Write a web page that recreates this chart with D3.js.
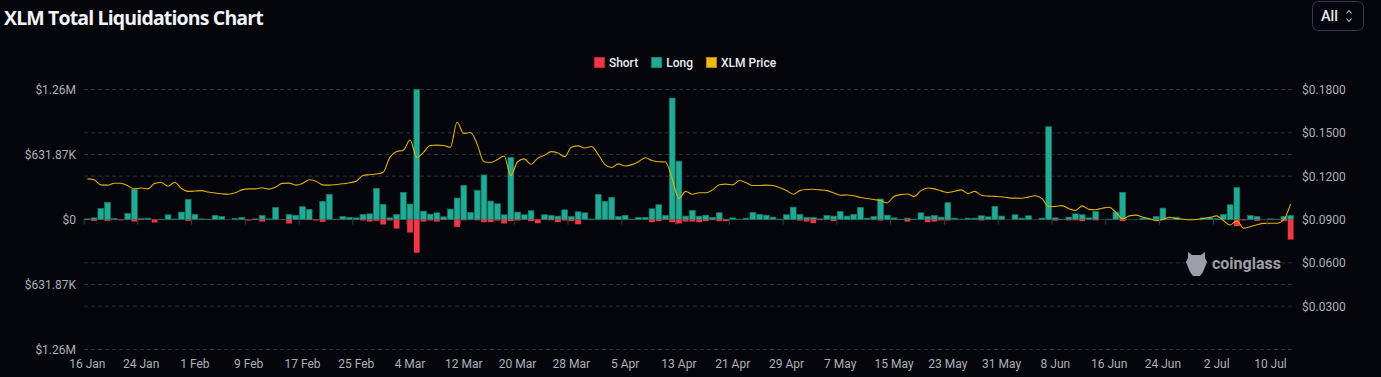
<!DOCTYPE html>
<html>
<head>
<meta charset="utf-8">
<script src="https://cdn.jsdelivr.net/npm/d3@7"></script>
<style>
  body { margin: 0; background: #04060b; }
  svg { display: block; font-family: Roboto, "Noto Sans", sans-serif; }
</style>
</head>
<body>
<svg id="chart" width="1381" height="377"></svg>
<script>
// daily liquidations in $K, starting 16 Jan 2024
const startDay = new Date(2024, 0, 16);
const longLiq = [
  6, 16, 107, 166, 10, 0, 59, 293, 8, 13,
  0, 2, 46, 5, 72, 195, 49, 6, 3, 39,
  29, 0, 10, 20, 0, 6, 39, 6, 117, 0,
  49, 42, 124, 98, 0, 176, 244, 3, 29, 20,
  16, 49, 55, 303, 147, 16, 49, 264, 150, 1263.74,
  81, 52, 65, 26, 101, 208, 332, 68, 283, 433,
  179, 153, 46, 603, 72, 46, 85, 0, 46, 39,
  33, 94, 29, 75, 65, 5, 244, 176, 215, 29,
  39, 3, 20, 20, 104, 143, 39, 1180, 567, 33,
  88, 33, 42, 20, 65, 3, 16, 2, 13, 68,
  49, 42, 23, 3, 46, 120, 49, 20, 20, 6,
  39, 33, 78, 33, 49, 117, 13, 29, 199, 42,
  16, 3, 13, 3, 65, 29, 39, 23, 163, 13,
  2, 13, 13, 36, 26, 127, 33, 0, 46, 13,
  36, 0, 13, 902, 16, 3, 23, 55, 46, 16,
  78, 0, 3, 72, 264, 0, 0, 13, 3, 29,
  111, 3, 23, 3, 3, 3, 16, 20, 8, 49,
  143, 310, 0, 39, 29, 0, 6, 3, 29, 39
];
const shortLiq = [
  3, 13, 0, 13, 0, 8, 0, 20, 3, 0,
  29, 0, 0, 0, 0, 13, 0, 0, 0, 0,
  0, 0, 0, 0, 10, 5, 20, 0, 0, 5,
  39, 0, 0, 5, 10, 23, 0, 0, 0, 0,
  0, 10, 20, 13, 49, 10, 88, 0, 127, 323,
  20, 10, 20, 5, 0, 72, 8, 0, 8, 26,
  26, 10, 39, 16, 10, 3, 16, 36, 3, 8,
  26, 10, 16, 46, 0, 0, 0, 0, 3, 3,
  0, 0, 0, 0, 26, 16, 5, 26, 39, 20,
  20, 26, 16, 6, 16, 16, 0, 0, 0, 0,
  0, 0, 0, 0, 0, 0, 10, 20, 36, 6,
  0, 16, 0, 0, 0, 0, 0, 0, 10, 0,
  0, 0, 20, 0, 0, 26, 20, 8, 10, 0,
  0, 0, 0, 10, 0, 0, 0, 0, 0, 0,
  0, 0, 0, 0, 10, 0, 8, 8, 16, 0,
  8, 0, 0, 0, 16, 0, 0, 0, 0, 0,
  0, 0, 0, 0, 0, 0, 0, 0, 0, 0,
  0, 65, 8, 0, 13, 0, 0, 0, 16, 195
];
const xlmPrice = [
  0.1181, 0.1175, 0.1140, 0.1138, 0.1151, 0.1151, 0.1133, 0.1112, 0.1118, 0.1112,
  0.1150, 0.1156, 0.1130, 0.1158, 0.1115, 0.1095, 0.1097, 0.1100, 0.1090, 0.1083,
  0.1078, 0.1075, 0.1085, 0.1105, 0.1112, 0.1112, 0.1120, 0.1110, 0.1125, 0.1150,
  0.1152, 0.1138, 0.1150, 0.1175, 0.1165, 0.1140, 0.1138, 0.1142, 0.1147, 0.1155,
  0.1165, 0.1205, 0.1210, 0.1215, 0.1227, 0.1330, 0.1370, 0.1380, 0.1450, 0.1330,
  0.1365, 0.1412, 0.1415, 0.1412, 0.1400, 0.1573, 0.1495, 0.1502, 0.1420, 0.1300,
  0.1295, 0.1315, 0.1340, 0.1204, 0.1300, 0.1320, 0.1282, 0.1325, 0.1345, 0.1370,
  0.1360, 0.1335, 0.1400, 0.1410, 0.1395, 0.1405, 0.1350, 0.1280, 0.1260, 0.1285,
  0.1270, 0.1280, 0.1300, 0.1328, 0.1308, 0.1300, 0.1298, 0.1183, 0.1045, 0.1095,
  0.1075, 0.1085, 0.1085, 0.1105, 0.1140, 0.1145, 0.1140, 0.1170, 0.1155, 0.1135,
  0.1135, 0.1138, 0.1135, 0.1120, 0.1100, 0.1075, 0.1100, 0.1108, 0.1109, 0.1105,
  0.1100, 0.1085, 0.1068, 0.1070, 0.1065, 0.1052, 0.1045, 0.1038, 0.1031, 0.1015,
  0.1060, 0.1072, 0.1077, 0.1060, 0.1100, 0.1118, 0.1112, 0.1098, 0.1086, 0.1095,
  0.1105, 0.1080, 0.1095, 0.1068, 0.1062, 0.1060, 0.1057, 0.1050, 0.1048, 0.1047,
  0.1055, 0.1064, 0.1045, 0.0990, 0.0990, 0.0996, 0.0975, 0.0962, 0.0994, 0.0970,
  0.0968, 0.0978, 0.0985, 0.0950, 0.0904, 0.0925, 0.0930, 0.0915, 0.0905, 0.0892,
  0.0900, 0.0915, 0.0906, 0.0902, 0.0898, 0.0900, 0.0907, 0.0915, 0.0925, 0.0893,
  0.0862, 0.0890, 0.0840, 0.0850, 0.0864, 0.0873, 0.0874, 0.0874, 0.0900, 0.1008
];
const xTickLabels = ["16 Jan", "24 Jan", "1 Feb", "9 Feb", "17 Feb", "25 Feb", "4 Mar",
  "12 Mar", "20 Mar", "28 Mar", "5 Apr", "13 Apr", "21 Apr", "29 Apr", "7 May", "15 May",
  "23 May", "31 May", "8 Jun", "16 Jun", "24 Jun", "2 Jul", "10 Jul"];
const leftTicks = [-1263.74, -631.87, 0, 631.87, 1263.74];
const rightTicks = [0.03, 0.06, 0.09, 0.12, 0.15, 0.18];
const legendNames = ["Short", "Long", "XLM Price"];

const red = "#f23645", teal = "#22ab94", gold = "#f0b90b";
const svg = d3.select("#chart");
const plotLeft = 84, plotRight = 1294, plotTop = 89.5, plotBottom = 349.5;

const days = d3.timeDay.range(startDay, d3.timeDay.offset(startDay, longLiq.length));
const fmtDay = d3.timeFormat("%-d %b");

let xScale = d3.scaleBand().domain(days).range([plotLeft, plotRight])
  .paddingInner(0.14).paddingOuter(0.07);
let yLeft = d3.scaleLinear().domain([-1263.74, 1263.74]).range([plotBottom, plotTop]);
let yRight = d3.scaleLinear().domain([0, 0.18]).range([plotBottom, plotTop]);

// background
svg.append("rect").attr("width", 1381).attr("height", 377).attr("fill", "#04060b");

// title
svg.append("text")
  .attr("x", 4).attr("y", 25)
  .attr("fill", "#f2f3f5")
  .style("font-family", "'Open Sans', sans-serif")
  .style("font-weight", 700).style("font-size", "19.5px")
  .style("letter-spacing", "-0.85px")
  .text("XLM Total Liquidations Chart");

// "All" select box
svg.append("rect")
  .attr("x", 1312.5).attr("y", 1.5).attr("width", 51).attr("height", 29).attr("rx", 6)
  .attr("fill", "none").attr("stroke", "#3a3d44");
svg.append("text")
  .attr("x", 1321).attr("y", 21)
  .attr("fill", "#e8e9ec").style("font-size", "14.5px").style("font-weight", 500)
  .text("All");
svg.append("path")
  .attr("d", "M1346.5,13.5 L1349,10.5 L1351.5,13.5 M1346.5,18.5 L1349,21.5 L1351.5,18.5")
  .attr("fill", "none").attr("stroke", "#c9cbd0").attr("stroke-width", 1.1);

// gridlines for both axes
let gridG = svg.append("g");
leftTicks.concat(rightTicks.map(v => yLeft.invert(yRight(v)))).forEach(v => {
  if (Math.abs(v) < 1e-6) return;
  gridG.append("line")
    .attr("x1", plotLeft).attr("x2", plotRight)
    .attr("y1", yLeft(v)).attr("y2", yLeft(v))
    .attr("stroke", "#2b2f36")
    .attr("stroke-dasharray", "4,3");
});

// watermark
let wm = svg.append("g").attr("fill", "#9c9fa5");
wm.append("path")
  .attr("d", "M1188,252 L1192,255 L1201,255 L1205,252 L1205,258 L1207,262 L1205,267 " +
    "L1203,272 L1200,276 L1193,276 L1190,272 L1188,267 L1186,262 L1188,258 Z");
wm.append("text")
  .attr("x", 1212).attr("y", 269)
  .style("font-size", "16px").style("font-weight", 700)
  .text("coinglass");

// zero line
svg.append("line")
  .attr("x1", plotLeft).attr("x2", plotRight)
  .attr("y1", yLeft(0)).attr("y2", yLeft(0))
  .attr("stroke", "#2e3238");

// bars
let barsG = svg.append("g");
barsG.selectAll("rect.long")
  .data(days)
  .join("rect")
  .attr("class", "long")
  .attr("x", d => xScale(d))
  .attr("width", xScale.bandwidth())
  .attr("y", (d, i) => yLeft(longLiq[i]))
  .attr("height", (d, i) => yLeft(0) - yLeft(longLiq[i]))
  .attr("fill", teal)
  .attr("stroke", "#177a69").attr("stroke-width", 0.7);

barsG.selectAll("rect.short")
  .data(days)
  .join("rect")
  .attr("class", "short")
  .attr("x", d => xScale(d))
  .attr("width", xScale.bandwidth())
  .attr("y", yLeft(0))
  .attr("height", (d, i) => yLeft(-shortLiq[i]) - yLeft(0))
  .attr("fill", red);

// price line
let priceLine = d3.line()
  .x((d, i) => xScale(days[i]) + xScale.bandwidth() / 2)
  .y(d => yRight(d))
  .curve(d3.curveMonotoneX);
svg.append("path")
  .attr("d", priceLine(xlmPrice))
  .attr("fill", "none")
  .attr("stroke", "#e2ae0a")
  .attr("stroke-width", 1.1);

// x axis: ticks at band start, labels at band centre
const tickDays = days.filter(d => xTickLabels.includes(fmtDay(d)));
const gap = (xScale.step() - xScale.bandwidth()) / 2;
svg.append("g").selectAll("line")
  .data(tickDays)
  .join("line")
  .attr("x1", d => xScale(d) - gap).attr("x2", d => xScale(d) - gap)
  .attr("y1", yLeft(0)).attr("y2", yLeft(0) + 5)
  .attr("stroke", "#3a3e45");

let xAxis = d3.axisBottom(xScale).tickValues(tickDays).tickFormat(fmtDay)
  .tickSize(0).tickPadding(5);
svg.append("g")
  .attr("id", "xAxisG")
  .attr("transform", "translate(0, 354)")
  .call(xAxis);

// y axes
function fmtMoney(v) {
  let a = Math.abs(v);
  if (a === 0) return "$0";
  if (a >= 1000) return "$" + (a / 1000).toFixed(2) + "M";
  return "$" + a.toFixed(2) + "K";
}
let yAxisL = d3.axisLeft(yLeft).tickValues(leftTicks).tickFormat(fmtMoney)
  .tickSize(0).tickPadding(8);
svg.append("g").attr("id", "yAxisLG")
  .attr("transform", `translate(${plotLeft}, 0)`)
  .call(yAxisL);

let yAxisR = d3.axisRight(yRight).tickValues(rightTicks).tickFormat(v => "$" + v.toFixed(4))
  .tickSize(0).tickPadding(8);
svg.append("g").attr("id", "yAxisRG")
  .attr("transform", `translate(${plotRight}, 0)`)
  .call(yAxisR);

svg.selectAll("#xAxisG, #yAxisLG, #yAxisRG")
  .call(g => g.select(".domain").remove())
  .selectAll("text")
  .attr("fill", "#aeb1b7")
  .style("font-family", "Roboto, sans-serif")
  .style("font-size", "12px");

// legend
const legendColors = [red, teal, gold];
let legendG = svg.append("g").attr("transform", "translate(0, 62)");
let xPos = 0;
legendNames.forEach((name, i) => {
  let item = legendG.append("g").attr("transform", `translate(${xPos}, 0)`);
  item.append("rect")
    .attr("x", 0.5).attr("y", -4.5).attr("width", 10).attr("height", 10)
    .attr("fill", legendColors[i])
    .attr("stroke", d3.color(legendColors[i]).darker(0.8));
  let t = item.append("text")
    .attr("x", 15).attr("y", 4.5)
    .attr("fill", "#eceef1")
    .style("font-size", "12px").style("font-weight", 500)
    .text(name);
  xPos += 15 + t.node().getComputedTextLength() + 13;
});
const legendWidth = xPos - 13;
legendG.attr("transform", `translate(${685 - legendWidth / 2}, 62)`);
</script>
</body>
</html>
